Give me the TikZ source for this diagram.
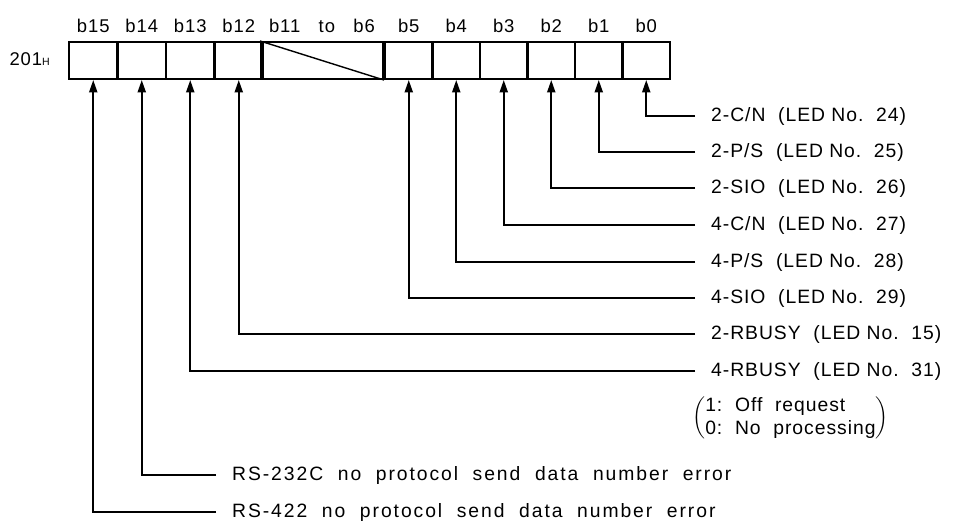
\documentclass[tikz,border=0pt]{standalone}
\usepackage{fontspec}
\setmainfont{Liberation Sans}[LetterSpace=5]
\newfontfamily\widefont{Liberation Sans}[LetterSpace=10]
\usetikzlibrary{arrows.meta}

\begin{document}
\begin{tikzpicture}[
        x=0.02cm, y=-0.02cm,
        txt/.style={font=\fontsize{10.5}{12.6}\selectfont},
        cell/.style={draw, line width=1.2pt, inner sep=0pt, minimum height=0.74cm},
        desc/.style={font=\fontsize{11}{13.2}\selectfont, anchor=west, inner xsep=9pt},
        lead/.style={line width=1pt, -{Triangle[length=7pt, width=4.6pt]}}
    ]
    \useasboundingbox (0,0) rectangle (960,525);

    \foreach \name/\x/\w/\bit in {
            b15/93.25/48.5/b15, b14/141.75/48.5/b14, b13/190.25/48.5/b13,
            b12/238.75/48.5/b12, b11/322/122/b11\quad to\quad b6,
            b5/408.75/47.5/b5, b4/456.25/47.5/b4, b3/503.75/47.5/b3,
            b2/551.25/47.5/b2, b1/598.75/47.5/b1, b0/646.25/47.5/b0} {
        \node [cell, minimum width=\w*0.02cm,
            label={[txt, label distance=1pt]above:\bit}] (\name)
            at (\x,60.5) {};
    }
    \draw [line width=0.8pt]
        (b11.north west) -- (b11.south east)
        ;

    \node [txt, anchor=east]
        (addr) at (56,59) {201{\fontsize{6}{6}\selectfont H}}
        ;

    \node [desc] (l0) at (695,116) {2-C/N\ \ (LED No.\ \ 24)};
    \node [desc] (l1) at (695,152) {2-P/S\ \ (LED No.\ \ 25)};
    \node [desc] (l2) at (695,188) {2-SIO\ \ (LED No.\ \ 26)};
    \node [desc] (l3) at (695,225) {4-C/N\ \ (LED No.\ \ 27)};
    \node [desc] (l4) at (695,262) {4-P/S\ \ (LED No.\ \ 28)};
    \node [desc] (l5) at (695,298) {4-SIO\ \ (LED No.\ \ 29)};
    \node [desc] (l12) at (695,334) {2-RBUSY\ \ (LED No.\ \ 15)};
    \node [desc] (l13) at (695,371) {4-RBUSY\ \ (LED No.\ \ 31)};

    \node [desc, inner sep=0pt]
        (note) at (692,418)
        {$\left(\mbox{\begin{tabular}{@{}l@{}}1:\ \ Off\ \ request\\0:\ \ No\ \ processing\end{tabular}}\right)$}
        ;

    \node [desc, font=\widefont\fontsize{11}{13.2}\selectfont] (l14) at (216,475)
        {RS-232C\ \ no\ \ protocol\ \ send\ \ data\ \ number\ \ error};
    \node [desc, font=\widefont\fontsize{11}{13.2}\selectfont] (l15) at (216,512)
        {RS-422\ \ no\ \ protocol\ \ send\ \ data\ \ number\ \ error};

    \foreach \i in {0,1,2,3,4,5,12,13,14,15} {
        \draw [lead] (l\i.west) -| (b\i.south);
    }
\end{tikzpicture}
\end{document}
